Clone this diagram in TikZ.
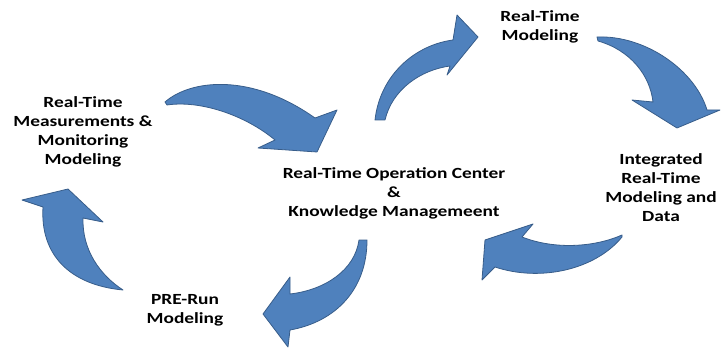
\documentclass[tikz,border=0pt]{standalone}
\usepackage{fontspec}
\setmainfont{Carlito}[FakeStretch=1.25]
\definecolor{arrowfill}{HTML}{4F81BD}
\definecolor{arrowline}{HTML}{385D8A}

\begin{document}
\begin{tikzpicture}[x=1pt, y=-1pt,
    lbl/.style={font=\bfseries\fontsize{15.5}{19}\selectfont, align=center, inner sep=0pt},
    bigarrow/.style={fill=arrowfill, draw=arrowline, line width=0.8pt, line join=round}]
    \useasboundingbox (0,0) rectangle (728,350);

    % Nodes
    \node [lbl](meas) at (83,131.5) {Real-Time\\Measurements \&\\Monitoring\\Modeling};
    \node [lbl](rtm) at (540,27) {Real-Time\\Modeling};
    \node [lbl](integ) at (661,187.5) {Integrated\\Real-Time\\Modeling and\\Data};
    \node [lbl](center) at (394,193.5) {Real-Time Operation Center\\\&\\Knowledge Managemeent};
    \node [lbl](prerun) at (185,310) {PRE-Run\\Modeling};

    % Arrows (curved block arrows)
    \draw [bigarrow] (165,102) .. controls (190,80) and (250,72) .. (315,118)
        -- (337,110) -- (317,152) -- (258,148) -- (275,140)
        .. controls (245,115) and (200,100) .. (167,105) -- cycle;
    \draw [bigarrow] (375,120) .. controls (380,75) and (415,45) .. (453,40)
        -- (457,15) -- (478,37) -- (447,75) -- (450,66)
        .. controls (420,70) and (392,90) .. (385,120) -- cycle;
    \draw [bigarrow] (597,37) .. controls (645,35) and (695,70) .. (707,110)
        -- (720,110) -- (677,128) -- (632,100) -- (653,102)
        .. controls (650,75) and (630,50) .. (598,41) -- cycle;
    \draw [bigarrow] (622,235) .. controls (595,247) and (555,250) .. (522,237)
        -- (533,224) -- (485,240) -- (482,280) -- (495,267)
        .. controls (540,282) and (595,270) .. (622,237) -- cycle;
    \draw [bigarrow] (359,240) .. controls (355,270) and (325,290) .. (290,294)
        -- (290,277) -- (263,314) -- (288,347) -- (290,330)
        .. controls (335,322) and (367,290) .. (367,240) -- cycle;
    \draw [bigarrow] (123,290) .. controls (70,285) and (40,255) .. (43,207)
        -- (22,200) -- (68,189) -- (103,222) -- (83,218)
        .. controls (82,250) and (100,275) .. (123,290) -- cycle;
\end{tikzpicture}
\end{document}
